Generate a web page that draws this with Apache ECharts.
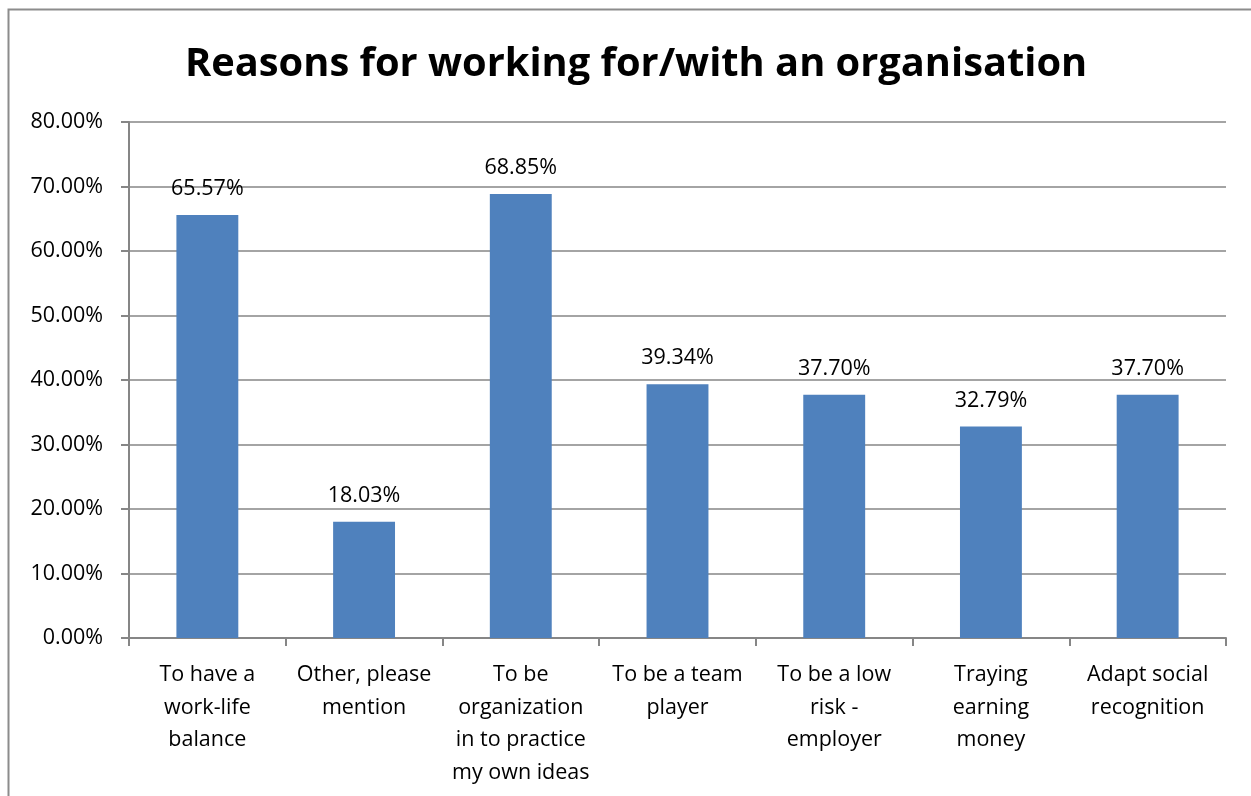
<!DOCTYPE html>
<html>
<head>
<meta charset="utf-8">
<script src="https://cdn.jsdelivr.net/npm/echarts@6/dist/echarts.min.js"></script>
<style>
  html, body { margin: 0; padding: 0; background: #fff; }
  #chart { width: 1251px; height: 796px; }
</style>
</head>
<body>
<div id="chart"></div>
<script>
// Survey answers: share of respondents choosing each reason
const categories = [
  'To have a\nwork-life\nbalance',
  'Other, please\nmention',
  'To be\norganization\nin to practice\nmy own ideas',
  'To be a team\nplayer',
  'To be a low\nrisk -\nemployer',
  'Traying\nearning\nmoney',
  'Adapt social\nrecognition'
];
const percentages = [65.57, 18.03, 68.85, 39.34, 37.70, 32.79, 37.70];

const FONT = '"Open Sans", "Noto Sans", sans-serif';
const chart = echarts.init(document.getElementById('chart'));

chart.setOption({
  animation: false,
  backgroundColor: '#ffffff',
  title: {
    text: 'Reasons for working for/with an organisation',
    left: 180,
    top: 40,
    textStyle: { fontFamily: FONT, fontWeight: 'bold', fontSize: 39.8, color: '#000' }
  },
  graphic: [{
    type: 'rect',
    shape: { x: 8.5, y: 9.5, width: 1400, height: 1000 },
    style: { fill: 'none', stroke: '#8c8c8c', lineWidth: 2 },
    silent: true
  }],
  grid: { left: 129, right: 25, top: 122, bottom: 158 },
  xAxis: {
    type: 'category',
    data: categories,
    axisLine: { lineStyle: { color: '#868686', width: 2 } },
    axisTick: { show: true, length: 8, lineStyle: { color: '#868686', width: 2 } },
    axisLabel: { fontFamily: FONT, fontSize: 21.5, color: '#000', lineHeight: 32.5, margin: 21, interval: 0 }
  },
  yAxis: {
    type: 'value',
    min: 0,
    max: 80,
    interval: 10,
    axisLine: { show: true, lineStyle: { color: '#868686', width: 2 } },
    axisTick: { show: true, length: 8, lineStyle: { color: '#868686', width: 2 } },
    splitLine: { lineStyle: { color: '#868686', width: 1.5 } },
    axisLabel: {
      fontFamily: FONT, fontSize: 21.5, color: '#000', margin: 26,
      formatter: v => v.toFixed(2) + '%'
    }
  },
  series: [{
    type: 'bar',
    data: percentages,
    barWidth: '39.5%',
    itemStyle: { color: '#4F81BD' },
    label: {
      show: true,
      position: 'top',
      distance: 15,
      fontFamily: FONT,
      fontSize: 21.5,
      color: '#000',
      formatter: p => p.value.toFixed(2) + '%'
    }
  }]
});
</script>
</body>
</html>
